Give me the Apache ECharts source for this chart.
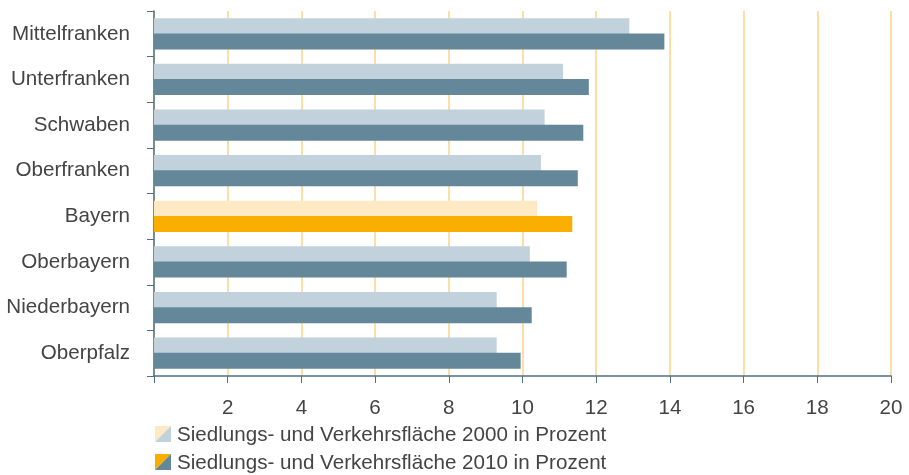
<!DOCTYPE html>
<html>
<head>
<meta charset="utf-8">
<script src="https://cdn.jsdelivr.net/npm/echarts@6/dist/echarts.min.js"></script>
<style>
  html, body { margin: 0; padding: 0; background: #fff; }
  #chart { width: 909px; height: 475px; }
</style>
</head>
<body>
<div id="chart"></div>
<script>
// Anteil Siedlungs- und Verkehrsfläche je Regierungsbezirk
const categories = ['Mittelfranken', 'Unterfranken', 'Schwaben', 'Oberfranken', 'Bayern', 'Oberbayern', 'Niederbayern', 'Oberpfalz'];
const values2000 = [12.9, 11.1, 10.6, 10.5, 10.4, 10.2, 9.3, 9.3];
const values2010 = [13.85, 11.8, 11.65, 11.5, 11.35, 11.2, 10.25, 9.95];
const xTicks = [0, 2, 4, 6, 8, 10, 12, 14, 16, 18, 20];
const legendNames = ['Siedlungs- und Verkehrsfläche 2000 in Prozent', 'Siedlungs- und Verkehrsfläche 2010 in Prozent'];
const highlight = 'Bayern';

const FONT = '"Liberation Sans", Arial, sans-serif';
const FS = 20.6;
const TXT = '#444';
const AXIS = '#4f6f82';
const C2000 = '#c2d2dc', C2010 = '#648899';
const H2000 = '#fde9c3', H2010 = '#f9ae00';

const withColor = (vals, normal, hi) => vals.map((v, i) => ({
  value: v,
  itemStyle: { color: categories[i] === highlight ? hi : normal }
}));

const legendItem = (y, c1, c2, text) => ([
  { type: 'polygon', shape: { points: [[155, y], [171, y], [155, y + 16]] }, style: { fill: c1 } },
  { type: 'polygon', shape: { points: [[171, y], [171, y + 16], [155, y + 16]] }, style: { fill: c2 } },
  { type: 'text', x: 177, y: y + 9, style: { text, fill: TXT, font: FS + 'px ' + FONT, textVerticalAlign: 'middle' } }
]);

const chart = echarts.init(document.getElementById('chart'));
chart.setOption({
  animation: false,
  grid: { left: 154, right: 18, top: 11, bottom: 99, containLabel: false },
  xAxis: {
    type: 'value', min: xTicks[0], max: xTicks[xTicks.length - 1], interval: 2,
    axisLine: { show: true, lineStyle: { color: AXIS, width: 1.5 } },
    axisTick: { show: true, length: 7, lineStyle: { color: AXIS } },
    axisLabel: {
      color: TXT, fontSize: FS, fontFamily: FONT, margin: 22,
      formatter: v => (v === 0 ? '' : String(v))
    },
    splitLine: { show: true, lineStyle: { color: '#fad58a', width: 1.5 } }
  },
  yAxis: {
    type: 'category', data: categories, inverse: true,
    axisLine: { show: true, lineStyle: { color: AXIS, width: 1.5 } },
    axisTick: { show: true, length: 7, lineStyle: { color: AXIS } },
    axisLabel: { color: TXT, fontSize: FS, fontFamily: FONT, margin: 24 },
    splitLine: { show: false }
  },
  series: [
    {
      type: 'bar', name: legendNames[0], data: withColor(values2000, C2000, H2000),
      barWidth: 16, barGap: '-5%', barCategoryGap: '32%'
    },
    {
      type: 'bar', name: legendNames[1], data: withColor(values2010, C2010, H2010),
      barWidth: 16, barGap: '-5%', barCategoryGap: '32%'
    }
  ],
  graphic: [
    ...legendItem(426, H2000, C2000, legendNames[0]),
    ...legendItem(454, H2010, C2010, legendNames[1])
  ]
});
</script>
</body>
</html>
